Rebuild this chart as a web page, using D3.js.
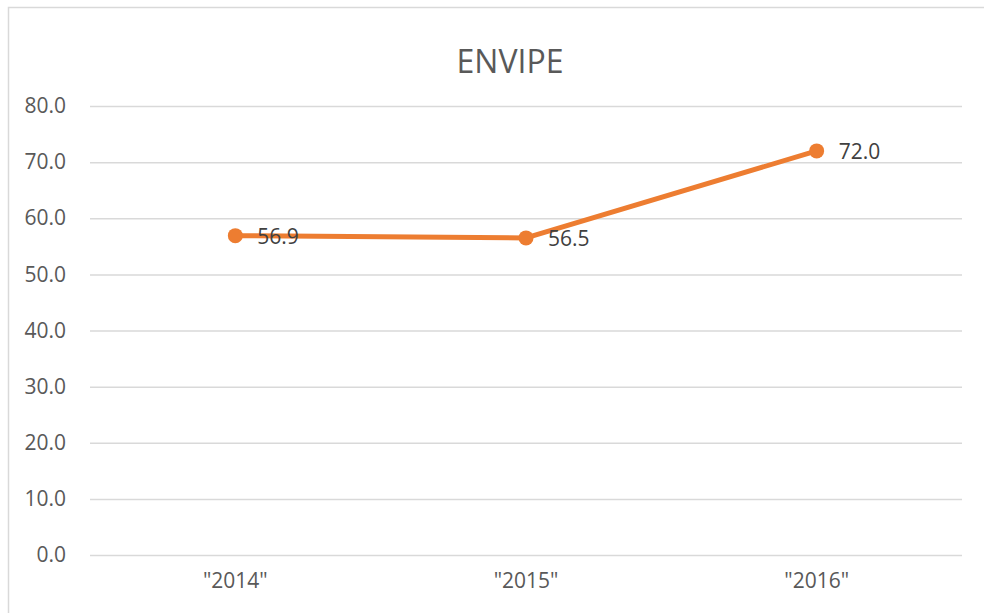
<!DOCTYPE html>
<html><head><meta charset="utf-8">
<script src="https://cdn.jsdelivr.net/npm/d3@7"></script>
<style>body{margin:0;background:#fff}svg{display:block}</style>
</head><body>
<svg id="c" width="984" height="613"></svg>
<script>
const categories = ['"2014"', '"2015"', '"2016"'];
const values = [56.9, 56.5, 72.0];
const yTicks = [0, 10, 20, 30, 40, 50, 60, 70, 80];
const title = "ENVIPE";

const svg = d3.select("#c");
const W = 984, H = 613;
const m = {left: 90, right: 22, top: 106, bottom: 58};
const x = d3.scaleBand().domain(categories).range([m.left, W - m.right]);
const y = d3.scaleLinear().domain([0, 80]).range([H - m.bottom, m.top]);
const font = "'Open Sans', sans-serif";

svg.append("rect").attr("x", 8.5).attr("y", 7.5).attr("width", 1100).attr("height", 800)
  .attr("fill", "#fff").attr("stroke", "#d9d9d9").attr("stroke-width", 1.5);

svg.append("text").attr("x", 510).attr("y", 60).attr("text-anchor", "middle")
  .attr("dominant-baseline", "central").attr("font-family", font).attr("font-size", 32)
  .attr("fill", "#595959").text(title);

const yAxis = svg.append("g").attr("transform", `translate(${m.left},0)`)
  .call(d3.axisLeft(y).tickValues(yTicks).tickSize(-(W - m.left - m.right)).tickPadding(24).tickFormat(d3.format(".1f")));
yAxis.select(".domain").remove();
yAxis.selectAll(".tick line").attr("stroke", "#d9d9d9").attr("stroke-width", 1.5);
yAxis.selectAll(".tick text").attr("font-family", font).attr("font-size", 21).attr("fill", "#595959");

const xAxis = svg.append("g").attr("transform", `translate(0,${H - m.bottom})`)
  .call(d3.axisBottom(x).tickSize(0).tickPadding(18));
xAxis.select(".domain").remove();
xAxis.selectAll(".tick text").attr("font-family", font).attr("font-size", 21).attr("fill", "#595959");

const cx = d => x(d) + x.bandwidth() / 2;
const line = d3.line().x((d, i) => cx(categories[i])).y(d => y(d));
svg.append("path").datum(values).attr("d", line).attr("fill", "none")
  .attr("stroke", "#ED7D31").attr("stroke-width", 5).attr("stroke-linejoin", "round").attr("stroke-linecap", "round");
svg.selectAll("circle.pt").data(values).join("circle").attr("class", "pt")
  .attr("cx", (d, i) => cx(categories[i])).attr("cy", d => y(d)).attr("r", 7.5).attr("fill", "#ED7D31");
svg.selectAll("text.lbl").data(values).join("text").attr("class", "lbl")
  .attr("x", (d, i) => cx(categories[i]) + 22).attr("y", d => y(d)).attr("dominant-baseline", "central")
  .attr("font-family", font).attr("font-size", 21).attr("fill", "#404040").text(d => d.toFixed(1));
</script>
</body></html>
